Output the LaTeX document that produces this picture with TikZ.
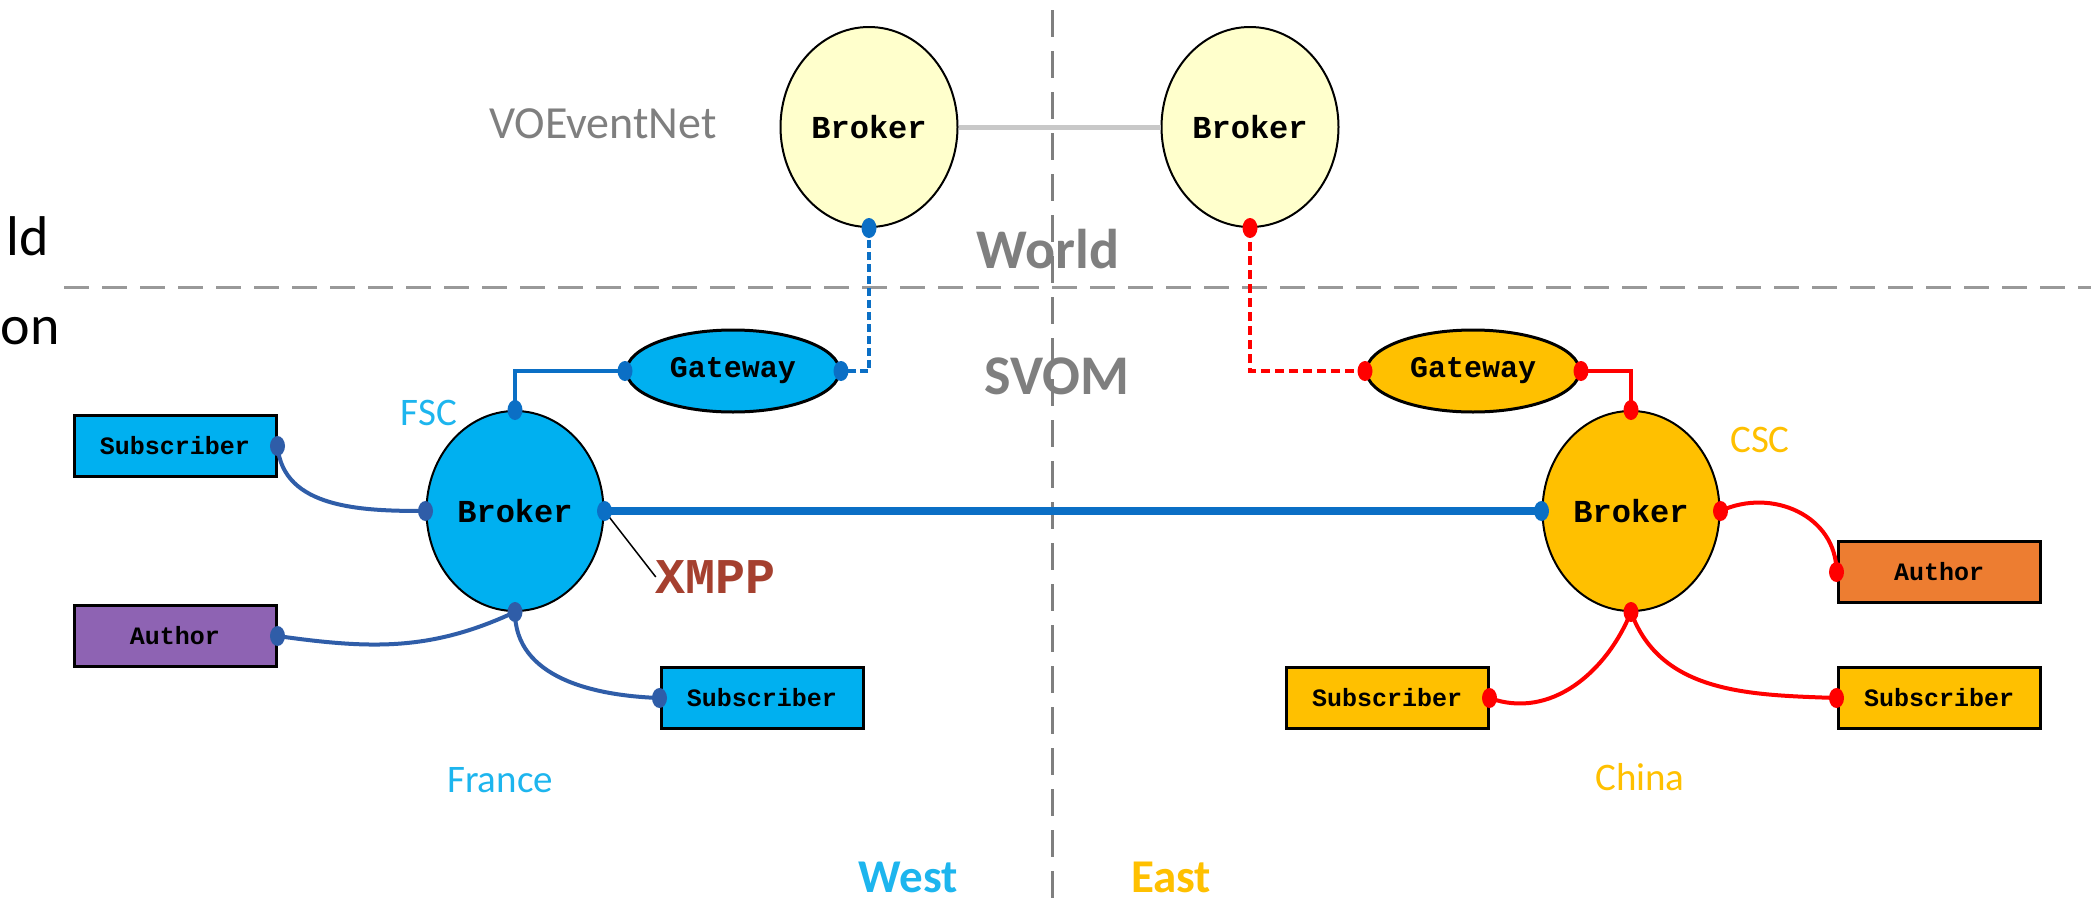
\documentclass[tikz,border=0pt]{standalone}
\usepackage{fontspec}
\setmainfont{Carlito}
\newfontfamily\monof{Liberation Mono}
\usetikzlibrary{shapes.geometric}
\definecolor{skyb}{HTML}{00B0F0}
\definecolor{lblb}{HTML}{1DB5EE}
\definecolor{conb}{HTML}{2F5DA8}
\definecolor{gateb}{HTML}{0B6FC5}
\definecolor{goldc}{HTML}{FFC000}
\definecolor{paley}{HTML}{FFFFCC}
\definecolor{purp}{HTML}{8E63B3}
\definecolor{orng}{HTML}{ED7D31}
\definecolor{xmppc}{HTML}{A5402F}
\definecolor{grayt}{HTML}{7F7F7F}
\definecolor{sepg}{HTML}{999999}
\definecolor{linkg}{HTML}{C8C8C8}
\begin{document}
\begin{tikzpicture}[x=1pt,y=1pt,
  vob/.style={ellipse,draw=black,line width=2pt,fill=paley,minimum width=177pt,minimum height=200pt,inner sep=0pt,font=\monof\bfseries\fontsize{32}{36}\selectfont},
  brk/.style={ellipse,draw=black,line width=2pt,minimum width=177pt,minimum height=200pt,inner sep=0pt,font=\monof\bfseries\fontsize{32}{36}\selectfont},
  gw/.style={ellipse,draw=black,line width=3pt,minimum width=213pt,minimum height=82pt,inner sep=0pt,font=\monof\bfseries\fontsize{30}{34}\selectfont},
  boxn/.style={rectangle,draw=black,line width=3pt,minimum width=202pt,minimum height=61pt,inner sep=0pt,font=\monof\bfseries\fontsize{25}{29}\selectfont},
  dotn/.style={ellipse,minimum width=15pt,minimum height=20pt,inner sep=0pt,draw=none},
  lbl/.style={inner sep=0pt,font=\fontsize{39}{44}\selectfont},
  big/.style={inner sep=0pt,font=\bfseries\fontsize{56}{60}\selectfont,text=grayt},
  sepline/.style={draw=sepg,line width=3pt},
  conl/.style={line width=4pt},
]
\useasboundingbox (0,0) rectangle (2091,-900);
\fill[white] (0,0) rectangle (2091,-900);

% separators
\draw[sepline,dash pattern=on 25pt off 13pt] (64,-287) -- (2091,-287);
\draw[sepline,draw=grayt,dash pattern=on 27pt off 14pt] (1052,-10) -- (1052,-900);

% side texts at the left edge
\node[inner sep=0pt,anchor=east,font=\fontsize{56}{60}\selectfont] (tw) at (49,-236) {ld};
\node[inner sep=0pt,anchor=east,font=\fontsize{56}{60}\selectfont] (tr) at (60,-331) {on};

% labels
\node[lbl,text=grayt,font=\fontsize{46}{50}\selectfont] (von) at (603,-124) {VOEventNet};
\node[big] (world) at (1048,-249) {World};
\node[big] (svom) at (1057,-376) {SVOM};
\node[lbl,text=lblb] (fsc) at (429,-413) {FSC};
\node[lbl,text=goldc] (csc) at (1760,-440) {CSC};
\node[lbl,text=lblb] (france) at (500,-780) {France};
\node[lbl,text=goldc] (china) at (1640,-777) {China};
\node[inner sep=0pt,font=\bfseries\fontsize{47}{50}\selectfont,text=lblb] (west) at (908,-877) {West};
\node[inner sep=0pt,font=\bfseries\fontsize{47}{50}\selectfont,text=goldc] (east) at (1171,-877) {East};

% main nodes
\node[vob] (vo1) at (869,-127) {Broker};
\node[vob] (vo2) at (1250,-127) {Broker};
\node[gw,fill=skyb] (gw1) at (733,-371) {Gateway};
\node[gw,fill=goldc] (gw2) at (1473,-371) {Gateway};
\node[brk,fill=skyb] (b1) at (515,-511) {Broker};
\node[brk,fill=goldc] (b2) at (1631,-511) {Broker};
\node[boxn,fill=skyb] (s1) at (175,-446) {Subscriber};
\node[boxn,fill=purp] (a1) at (175,-636) {Author};
\node[boxn,fill=skyb] (s2) at (762,-698) {Subscriber};
\node[boxn,fill=goldc] (s3) at (1387,-698) {Subscriber};
\node[boxn,fill=orng] (a2) at (1939,-572) {Author};
\node[boxn,fill=goldc] (s4) at (1939,-698) {Subscriber};
\node[inner sep=0pt,font=\monof\bfseries\fontsize{50}{54}\selectfont,text=xmppc] (xmpp) at (716,-577) {XMPP};

% connectors
\draw[draw=linkg,line width=5pt] (vo1.east) -- (vo2.west);
\draw[gateb,line width=4pt,dash pattern=on 8pt off 4pt] (vo1.south) |- (gw1.east);
\draw[red,line width=4pt,dash pattern=on 9pt off 5pt] (vo2.south) |- (gw2.west);
\draw[gateb,conl] (b1.north) |- (gw1.west);
\draw[red,conl] (gw2.east) -| (b2.north);
\draw[gateb,line width=8pt] (b1.east) -- (b2.west);
\draw[conb,conl] (s1.east) to[out=-85,in=180] (b1.west);
\draw[conb,conl] (a1.east) to[out=-8,in=-155] (b1.south);
\draw[conb,conl] (b1.south) to[out=-90,in=178] (s2.west);
\draw[red,conl] (b2.east) to[out=25,in=90,looseness=1.1] (a2.west);
\draw[red,conl] (b2.south) to[out=-112,in=-20] (s3.east);
\draw[red,conl] (b2.south) to[out=-70,in=178] (s4.west);
\draw[black,line width=1.5pt] (b1.east) -- (xmpp.west);

% connection dots
\node[dotn,fill=gateb] (d1) at (vo1.south) {};
\node[dotn,fill=red] (d2) at (vo2.south) {};
\node[dotn,fill=gateb] (d3) at (gw1.west) {};
\node[dotn,fill=gateb] (d4) at (gw1.east) {};
\node[dotn,fill=red] (d5) at (gw2.west) {};
\node[dotn,fill=red] (d6) at (gw2.east) {};
\node[dotn,fill=gateb] (d7) at (b1.north) {};
\node[dotn,fill=conb] (d8) at (b1.west) {};
\node[dotn,fill=gateb] (d9) at (b1.east) {};
\node[dotn,fill=conb] (d10) at (b1.south) {};
\node[dotn,fill=red] (d11) at (b2.north) {};
\node[dotn,fill=gateb] (d12) at (b2.west) {};
\node[dotn,fill=red] (d13) at (b2.east) {};
\node[dotn,fill=red] (d14) at (b2.south) {};
\node[dotn,fill=conb] (d15) at (s1.east) {};
\node[dotn,fill=conb] (d16) at (a1.east) {};
\node[dotn,fill=conb] (d17) at (s2.west) {};
\node[dotn,fill=red] (d18) at (s3.east) {};
\node[dotn,fill=red] (d19) at (a2.west) {};
\node[dotn,fill=red] (d20) at (s4.west) {};
\end{tikzpicture}
\end{document}
